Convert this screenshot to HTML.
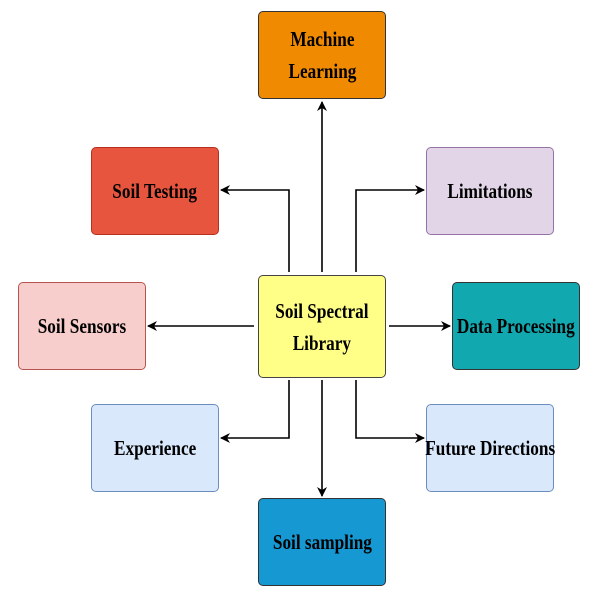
<!DOCTYPE html>
<html><head><style>
body{margin:0;width:600px;height:600px;background:#fff;position:relative;overflow:hidden}
.b{position:absolute;width:126px;height:86px;border:1px solid #333;border-radius:5px;display:flex;align-items:center;justify-content:center;text-align:center;font-family:"Liberation Serif",serif;font-weight:bold;font-size:21px;line-height:32px;color:#000}
.b span{display:inline-block;transform:scaleX(0.82);white-space:nowrap}
svg{position:absolute;left:0;top:0}
</style></head><body>
<svg width="600" height="600">
<defs><marker id="a" markerWidth="10" markerHeight="10" refX="9" refY="5" orient="auto" markerUnits="userSpaceOnUse"><path d="M0,0 L10,5 L0,10 L3,5z" fill="#000"/></marker></defs>
<g stroke="#000" stroke-width="1.6" fill="none" marker-end="url(#a)">
<path d="M322,272 V102"/>
<path d="M289,272 V190 H221"/>
<path d="M356,272 V190 H424"/>
<path d="M254,326 H148"/>
<path d="M389,326 H450"/>
<path d="M289,380 V438 H221"/>
<path d="M356,380 V438 H424"/>
<path d="M322,380 V496"/>
</g></svg>
<div class="b" style="left:258px;top:11px;background:#F08A00"><span>Machine<br>Learning</span></div>
<div class="b" style="left:91px;top:147px;background:#E8553F;border-color:#B5301e"><span>Soil Testing</span></div>
<div class="b" style="left:426px;top:147px;background:#E1D5E7;border-color:#9673A6"><span>Limitations</span></div>
<div class="b" style="left:18px;top:282px;background:#F8CECC;border-color:#B85450"><span>Soil Sensors</span></div>
<div class="b" style="left:258px;top:275px;height:101px;background:#FFFF88;border-color:#444"><span>Soil Spectral<br>Library</span></div>
<div class="b" style="left:452px;top:282px;background:#12A8B0"><span>Data Processing</span></div>
<div class="b" style="left:91px;top:404px;background:#DAE8FC;border-color:#6C8EBF"><span>Experience</span></div>
<div class="b" style="left:426px;top:404px;background:#DAE8FC;border-color:#6C8EBF"><span>Future Directions</span></div>
<div class="b" style="left:258px;top:498px;background:#1699D3"><span>Soil sampling</span></div>
</body></html>
